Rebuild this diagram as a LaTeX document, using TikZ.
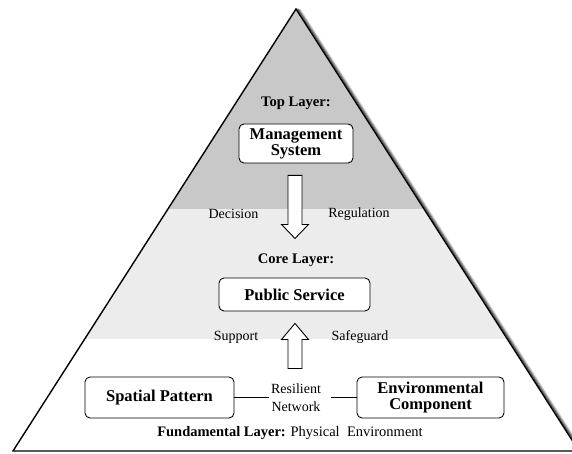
\documentclass[tikz,border=0pt]{standalone}
\usepackage{fontspec}
\setmainfont{Liberation Serif}
\usetikzlibrary{calc}
\definecolor{topgray}{RGB}{200,200,200}
\definecolor{coregray}{RGB}{236,236,236}

\begin{document}
\begin{tikzpicture}[x=1pt,y=-1pt,
  box/.style={draw,rounded corners=5pt,fill=white,line width=0.9pt,align=center,
    font=\fontsize{16.5}{16}\selectfont\bfseries},
  lbl/.style={font=\fontsize{14}{18}\selectfont},
  layer/.style={font=\fontsize{14.6}{17}\selectfont\bfseries},
  blockarr/.style={draw,fill=white,line width=0.9pt,line join=miter}]
  \useasboundingbox (0,0) rectangle (572,454);
  \clip (0,0) rectangle (572,454);
  % pyramid
  \coordinate (apex) at (296,9);
  \coordinate (bl) at (13,451);
  \coordinate (br) at (579,451);
  % soft shadow on the right
  \foreach \s/\o in {1/0.5,2/0.35,3/0.22,4/0.1}
    \draw[black,opacity=\o,line width=1.5pt] ($(apex)+(\s,0)$) -- ($(br)+(\s,0)$);
  \begin{scope}
    \clip (apex) -- (bl) -- (br) -- cycle;
    \fill[white] (0,0) rectangle (580,454);
    \fill[topgray] (0,0) rectangle (580,209);
    \fill[coregray] (0,209) rectangle (580,339);
  \end{scope}
  \draw[line width=1.4pt,line join=miter] (apex) -- (bl) -- (br) -- cycle;

  % top layer
  \node[layer] (toplbl) at (296,103) {Top Layer:};
  \node[box,minimum width=114pt,minimum height=39pt] (mgmt) at (296,143.5) {Management\\System};
  \node[lbl] (dec) at (233.5,214) {Decision};
  \node[lbl] (reg) at (359,214) {Regulation};

  % core layer
  \node[layer] (corelbl) at (296,260) {Core Layer:};
  \node[box,minimum width=151pt,minimum height=33pt] (pub) at (294.5,294.5) {Public Service};
  \node[lbl] (supp) at (236,337) {Support};
  \node[lbl] (safe) at (360,337) {Safeguard};

  % fundamental layer
  \node[box,minimum width=149pt,minimum height=41pt] (spat) at (159.5,397.5) {Spatial Pattern};
  \node[box,minimum width=147pt,minimum height=41pt] (env) at (430.5,397.5) {Environmental\\Component};
  \node[lbl,align=center,inner sep=2pt] (net) at (296,397.5) {Resilient\\Network};
  \node[lbl,font=\fontsize{14.5}{18}\selectfont] (fund) at (290,433) {\textbf{Fundamental Layer:} Physical\ \ Environment};

  \draw[line width=0.9pt] (spat.east) -- (net.west);
  \draw[line width=0.9pt,shorten <=8pt] (net.east) -- (env.west);

  % block arrows
  \draw[blockarr] ($(mgmt.south)+(-8,12)$) -- ++(14,0) -- ++(0,49) -- ++(6.5,0)
    -- ++(-13.5,14) -- ++(-13.5,-14) -- ++(6.5,0) -- cycle;
  \draw[blockarr] ($(pub.south)+(0.5,12)$) -- ++(13.5,16) -- ++(-6.5,0) -- ++(0,29)
    -- ++(-14,0) -- ++(0,-29) -- ++(-6.5,0) -- cycle;
\end{tikzpicture}
\end{document}
